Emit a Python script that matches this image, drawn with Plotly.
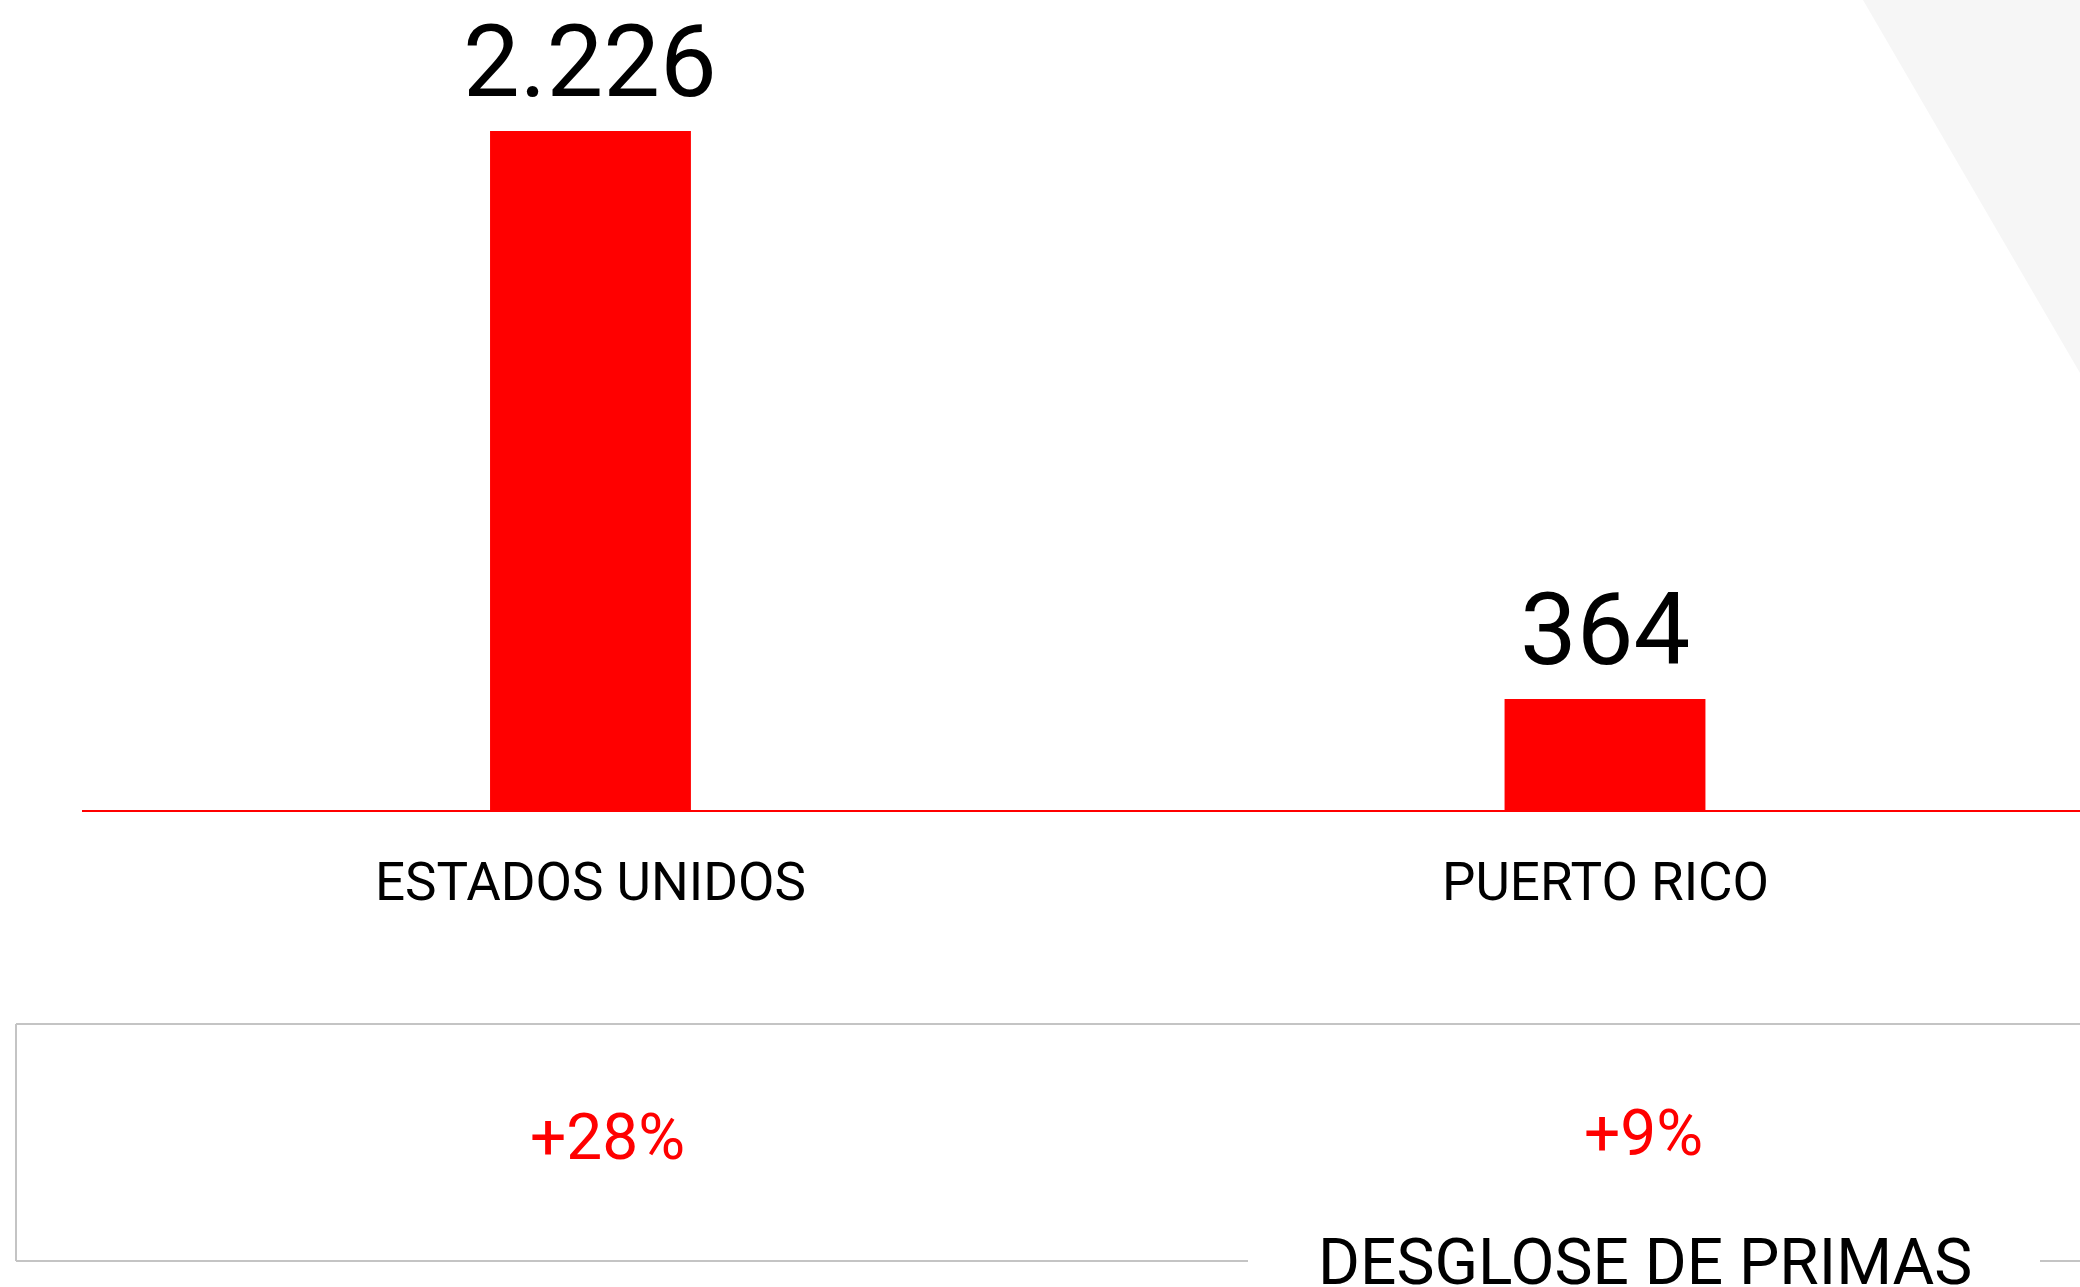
import plotly.graph_objects as go

# ---- data ----
categories = ["ESTADOS UNIDOS", "PUERTO RICO"]
values = [2226, 364]
growth_labels = ["+28%", "+9%"]
section_title = "DESGLOSE DE PRIMAS"

W, H = 2080, 1287
RED = "#ff0000"
GRAY = "#c4c4c4"
FONT = "Roboto"

def px_x(p):
    return p / W

def px_y(p):
    return 1 - p / H

def fmt(v):
    return f"{v:,}".replace(",", ".")

fig = go.Figure()
fig.add_trace(go.Bar(
    x=categories, y=values, width=0.198,
    marker=dict(color=RED, line=dict(width=0)),
    hoverinfo="skip",
))

annotations = []
# value labels above bars
for c, v in zip(categories, values):
    annotations.append(dict(
        x=c, y=v, xref="x", yref="y", text=fmt(v), showarrow=False,
        xanchor="center", yanchor="bottom", yshift=8,
        font=dict(family=FONT, size=101, color="#000000"),
    ))
# category labels below axis
for c in categories:
    annotations.append(dict(
        x=c, y=px_y(881.5), xref="x", yref="paper", text=c, showarrow=False,
        xanchor="center", yanchor="middle",
        font=dict(family=FONT, size=53, color="#000000"),
    ))
# growth labels in box
growth_x = [607, 1643]
growth_y = [1137, 1133]
for t, gx, gy in zip(growth_labels, growth_x, growth_y):
    annotations.append(dict(
        x=px_x(gx), y=px_y(gy), xref="paper", yref="paper", text=t, showarrow=False,
        xanchor="center", yanchor="middle",
        font=dict(family=FONT, size=64, color=RED),
    ))
# section title
annotations.append(dict(
    x=px_x(1644.5), y=px_y(1262), xref="paper", yref="paper", text=section_title,
    showarrow=False, xanchor="center", yanchor="middle",
    font=dict(family=FONT, size=64, color="#000000"),
))

shapes = [
    # grey triangle top right
    dict(type="path", xref="paper", yref="paper",
         path=f"M {px_x(1863)},1 L 1,1 L 1,{px_y(373)} Z",
         fillcolor="#f6f6f6", line=dict(width=0), layer="below"),
    # box top
    dict(type="line", xref="paper", yref="paper", x0=px_x(16), x1=1,
         y0=px_y(1024), y1=px_y(1024), line=dict(color=GRAY, width=2)),
    # box left
    dict(type="line", xref="paper", yref="paper", x0=px_x(16), x1=px_x(16),
         y0=px_y(1024), y1=px_y(1261), line=dict(color=GRAY, width=2)),
    # box bottom, broken by title
    dict(type="line", xref="paper", yref="paper", x0=px_x(16), x1=px_x(1248),
         y0=px_y(1261), y1=px_y(1261), line=dict(color=GRAY, width=2)),
    dict(type="line", xref="paper", yref="paper", x0=px_x(2040), x1=1,
         y0=px_y(1261), y1=px_y(1261), line=dict(color=GRAY, width=2)),
]

fig.update_layout(
    width=W, height=H,
    margin=dict(l=0, r=0, t=0, b=0),
    paper_bgcolor="white", plot_bgcolor="rgba(0,0,0,0)",
    showlegend=False,
    xaxis=dict(domain=[px_x(82), 1], type="category",
               range=[-0.5012, 1.4682], showticklabels=False,
               showgrid=False, zeroline=False, showline=True,
               linecolor=RED, linewidth=2, ticks=""),
    yaxis=dict(domain=[px_y(810), 1], range=[0, 2655.5],
               showticklabels=False, showgrid=False, zeroline=False,
               showline=False, ticks=""),
    annotations=annotations,
    shapes=shapes,
    font=dict(family=FONT),
)

fig.write_html(
    "out.html",
    config={"displayModeBar": False},
    post_script="document.body.style.margin='0';document.body.style.overflow='hidden';",
)
